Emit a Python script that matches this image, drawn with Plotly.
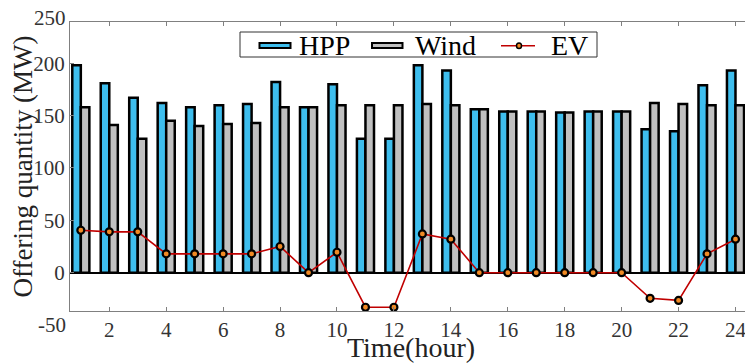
import plotly.graph_objects as go

hours = list(range(1, 25))
hpp = [198, 181, 167, 162, 158, 160, 161, 182, 158, 180, 128, 128,
       198, 193, 156, 154, 154, 153, 154, 154, 137, 135, 179, 193]
wind = [158, 141, 128, 145, 140, 142, 143, 158, 158, 160, 160, 160,
        161, 160, 156, 154, 154, 153, 154, 154, 162, 161, 160, 160]
ev = [40.5, 39, 39, 18, 18, 18, 18, 25, 0, 19.5, -33, -33,
      37, 32, 0, 0, 0, 0, 0, 0, -24.5, -26.5, 18, 32]
series_names = ["HPP", "Wind", "EV"]
y_ticks = [0, 50, 100, 150, 200]
x_ticks = list(range(2, 25, 2))

FONT = "Liberation Serif"
BLUE, GREY, RED, ORANGE = "#3EBEEE", "#C0C0C0", "#C00000", "#F08A24"

# page body has an 8px margin; figure is sized to fit the window
W, H = 745, 355
ML, MR, MT, MB = 62, 1, 14, 52
PW, PH = W - ML - MR, H - MT - MB


def px(X):  # page pixel -> paper x
    return (X - 8 - ML) / PW


def py(Y):  # page pixel -> paper y
    return (H - MB - (Y - 8)) / PH


fig = go.Figure()
fig.add_trace(go.Bar(x=hours, y=hpp, name=series_names[0], showlegend=False,
                     marker=dict(color=BLUE, line=dict(color="black", width=2.5))))
fig.add_trace(go.Bar(x=hours, y=wind, name=series_names[1], showlegend=False,
                     marker=dict(color=GREY, line=dict(color="black", width=2.5))))
fig.add_trace(go.Scatter(x=hours, y=ev, name=series_names[2], mode="lines+markers",
                         showlegend=False,
                         line=dict(color=RED, width=1.6),
                         marker=dict(color=ORANGE, size=7,
                                     line=dict(color="black", width=2.2))))

axis_common = dict(showline=True, linecolor="#808080", linewidth=1.2, mirror="ticks",
                   ticks="inside", ticklen=4, tickcolor="#808080",
                   showgrid=False, automargin=False,
                   tickfont=dict(family=FONT, size=21, color="#333333"))

fig.update_layout(
    width=W, height=H,
    margin=dict(l=ML, r=MR, t=MT, b=MB, autoexpand=False),
    plot_bgcolor="white", paper_bgcolor="white",
    barmode="group", bargap=0.4, bargroupgap=0,
    font=dict(family=FONT, color="black"),
    showlegend=False,
    xaxis=dict(range=[0.62, 24.58], tickvals=x_ticks,
               title=dict(text="Time(hour)", font=dict(family=FONT, size=28, color="#222222"),
                          standoff=5),
               **axis_common),
    yaxis=dict(range=[-36.6, 239.4], tickvals=y_ticks,
               zeroline=True, zerolinecolor="black", zerolinewidth=2,
               title=dict(text="Offering quantity (MW)",
                          font=dict(family=FONT, size=27, color="#222222"), standoff=2),
               **axis_common),
)

# extra end tick labels
fig.add_annotation(text="250", xref="paper", yref="paper", x=0, y=1.0, xanchor="right",
                   yanchor="middle", xshift=-2, yshift=4, showarrow=False,
                   font=dict(family=FONT, size=21, color="#333333"))
fig.add_annotation(text="-50", xref="paper", yref="paper", x=0, y=0, xanchor="right",
                   yanchor="middle", xshift=-2, yshift=-14, showarrow=False,
                   font=dict(family=FONT, size=21, color="#333333"))

# legend drawn as shapes + text
shapes = [
    dict(type="rect", xref="paper", yref="paper", x0=px(240), x1=px(597), y0=py(57), y1=py(32),
         fillcolor="white", line=dict(color="#333333", width=1), layer="above"),
    dict(type="rect", xref="paper", yref="paper", x0=px(259.5), x1=px(290.5), y0=py(48), y1=py(43),
         fillcolor=BLUE, line=dict(color="black", width=2), layer="above"),
    dict(type="rect", xref="paper", yref="paper", x0=px(372), x1=px(402.5), y0=py(48), y1=py(43),
         fillcolor=GREY, line=dict(color="black", width=2), layer="above"),
    dict(type="line", xref="paper", yref="paper", x0=px(501), x1=px(535), y0=py(45.7), y1=py(45.7),
         line=dict(color=RED, width=1.6), layer="above"),
    dict(type="circle", xref="paper", yref="paper", x0=px(516.5), x1=px(521.5), y0=py(48.5), y1=py(43),
         fillcolor=ORANGE, line=dict(color="black", width=1.5), layer="above"),
]
fig.update_layout(shapes=shapes)
for name, xl in zip(series_names, [297, 413, 549]):
    fig.add_annotation(text=name, xref="paper", yref="paper", x=px(xl), y=py(45.5),
                       xanchor="left", yanchor="middle", showarrow=False,
                       font=dict(family=FONT, size=28, color="black"))

fig.write_html("out.html")
